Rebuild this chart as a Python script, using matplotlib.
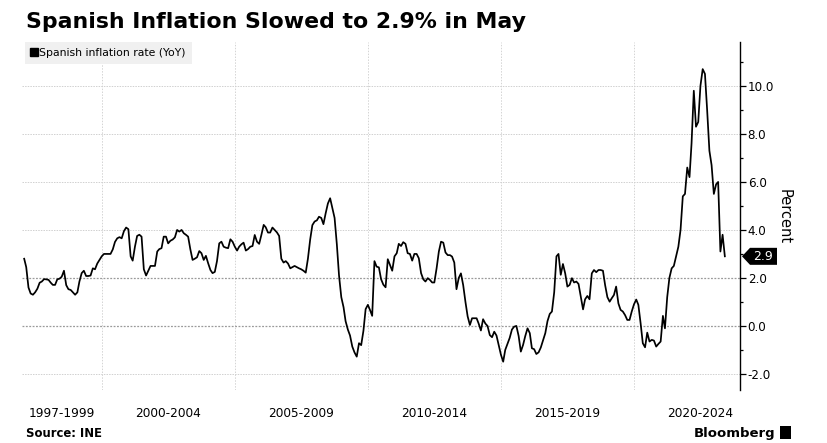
import numpy as np
import pandas as pd
import matplotlib
matplotlib.use("Agg")
import matplotlib.pyplot as plt
from matplotlib.lines import Line2D
from matplotlib.patches import Rectangle, Polygon
from matplotlib.transforms import IdentityTransform

# Spanish inflation rate YoY (%), monthly, Jan 1997 - May 2023
v1997 = [2.8, 2.45, 1.6, 1.35, 1.3, 1.4, 1.55, 1.8, 1.85, 1.95, 1.94, 1.92]
v1998 = [1.8, 1.71, 1.71, 1.94, 1.97, 2.05, 2.3, 1.7, 1.53, 1.5, 1.4, 1.3]
v1999 = [1.4, 1.85, 2.2, 2.3, 2.08, 2.08, 2.1, 2.4, 2.36, 2.6, 2.75, 2.9]
v2000 = [3.0, 3.0, 3.0, 3.0, 3.19, 3.5, 3.65, 3.7, 3.65, 3.95, 4.1, 4.03]
v2001 = [2.9, 2.72, 3.3, 3.75, 3.8, 3.72, 2.36, 2.1, 2.3, 2.5, 2.5, 2.5]
v2002 = [3.1, 3.2, 3.24, 3.72, 3.72, 3.44, 3.55, 3.6, 3.69, 4.0, 3.93, 4.0]
v2003 = [3.86, 3.8, 3.72, 3.2, 2.75, 2.8, 2.86, 3.12, 3.03, 2.75, 2.92, 2.61]
v2004 = [2.33, 2.2, 2.25, 2.7, 3.44, 3.51, 3.3, 3.26, 3.24, 3.61, 3.51, 3.3]
v2005 = [3.14, 3.3, 3.4, 3.47, 3.14, 3.2, 3.3, 3.33, 3.79, 3.51, 3.42, 3.8]
v2006 = [4.21, 4.11, 3.89, 3.89, 4.1, 4.0, 3.9, 3.75, 2.8, 2.64, 2.7, 2.6]
v2007 = [2.4, 2.45, 2.5, 2.45, 2.4, 2.36, 2.3, 2.22, 2.8, 3.6, 4.2, 4.35]
v2008 = [4.4, 4.55, 4.5, 4.24, 4.7, 5.1, 5.32, 4.9, 4.5, 3.4, 2.1, 1.2]
v2009 = [0.78, 0.2, -0.15, -0.4, -0.86, -1.1, -1.28, -0.72, -0.8, -0.2, 0.7, 0.88]
v2010 = [0.65, 0.42, 2.7, 2.47, 2.44, 1.95, 1.72, 1.61, 2.78, 2.54, 2.3, 2.9]
v2011 = [3.03, 3.42, 3.33, 3.49, 3.42, 3.03, 3.0, 2.72, 3.0, 3.0, 2.82, 2.2]
v2012 = [1.94, 1.85, 1.99, 1.92, 1.81, 1.81, 2.4, 3.1, 3.51, 3.47, 3.06, 2.95]
v2013 = [2.95, 2.89, 2.64, 1.53, 2.0, 2.19, 1.7, 1.0, 0.4, 0.04, 0.32, 0.32]
v2014 = [0.32, 0.1, -0.19, 0.28, 0.1, 0.0, -0.38, -0.47, -0.24, -0.4, -0.8, -1.2]
v2015 = [-1.49, -1.0, -0.75, -0.5, -0.15, -0.03, 0.0, -0.42, -1.07, -0.79, -0.42, -0.1]
v2016 = [-0.3, -0.93, -0.97, -1.17, -1.1, -0.9, -0.6, -0.3, 0.2, 0.5, 0.6, 1.4]
v2017 = [2.9, 3.0, 2.13, 2.58, 2.19, 1.64, 1.71, 1.99, 1.81, 1.85, 1.75, 1.22]
v2018 = [0.69, 1.11, 1.25, 1.11, 2.19, 2.33, 2.24, 2.33, 2.33, 2.3, 1.7, 1.2]
v2019 = [1.01, 1.15, 1.29, 1.64, 0.94, 0.67, 0.6, 0.45, 0.25, 0.25, 0.6, 0.9]
v2020 = [1.1, 0.88, 0.11, -0.72, -0.89, -0.28, -0.65, -0.58, -0.61, -0.86, -0.75, -0.65]
v2021 = [0.42, -0.1, 1.2, 2.0, 2.4, 2.5, 2.9, 3.3, 4.0, 5.4, 5.5, 6.6]
v2022 = [6.2, 7.6, 9.8, 8.3, 8.5, 10.0, 10.7, 10.5, 9.0, 7.3, 6.7, 5.5]
v2023 = [5.9, 6.0, 3.1, 3.8, 2.9]

values = (v1997 + v1998 + v1999 + v2000 + v2001 + v2002 + v2003 + v2004 + v2005
          + v2006 + v2007 + v2008 + v2009 + v2010 + v2011 + v2012 + v2013 + v2014
          + v2015 + v2016 + v2017 + v2018 + v2019 + v2020 + v2021 + v2022 + v2023)
dates = pd.date_range("1997-01-31", periods=len(values), freq="ME")

period_labels = ["1997-1999", "2000-2004", "2005-2009", "2010-2014", "2015-2019", "2020-2024"]
period_mid = ["1998-07-01", "2002-07-01", "2007-07-01", "2012-07-01", "2017-07-01", "2022-07-01"]
grid_years = ["2000-01-01", "2005-01-01", "2010-01-01", "2015-01-01", "2020-01-01"]
yticks = [-2, 0, 2, 4, 6, 8, 10]

fig = plt.figure(figsize=(8.27, 4.43), dpi=100)
ax = fig.add_axes([0.0266, 0.1196, 0.8682, 0.7856])

# gridlines
for g in grid_years:
    ax.axvline(pd.Timestamp(g), color="#d4d4d4", lw=0.7, ls=(0, (1.5, 1.5)), zorder=0)
for yv in yticks:
    c = "#9a9a9a" if yv in (0, 2) else "#d0d0d0"
    ax.axhline(yv, color=c, lw=0.9 if yv in (0, 2) else 0.7, ls=(0, (1.5, 1.2)), zorder=0)

ax.plot(dates, values, color="black", lw=1.25, zorder=3)

ax.set_xlim(pd.Timestamp("1997-01-01"), pd.Timestamp("2023-12-25"))
ax.set_ylim(-2.67, 11.83)

# spines
for s in ["top", "left", "bottom"]:
    ax.spines[s].set_visible(False)
ax.spines["right"].set_color("black")
ax.spines["right"].set_linewidth(1.0)

# y axis on the right
ax.yaxis.tick_right()
ax.set_yticks(yticks)
ax.set_yticklabels([f"{t:.1f}" for t in yticks])
ax.set_yticks([-1, 1, 3, 5, 7, 9, 11], minor=True)
ax.tick_params(axis="y", which="major", length=4, width=0.9, pad=1.5,
               labelsize=8.6, colors="black")
ax.tick_params(axis="y", which="minor", length=2.5, width=0.9)

# x axis period labels
ax.set_xticks([pd.Timestamp(d) for d in period_mid])
ax.set_xticklabels(period_labels)
ax.tick_params(axis="x", length=0, pad=12, labelsize=8.7)

# last value tag (pentagon pointing at the axis)
x0 = ax.transAxes.transform((1.0, 0))[0]
y0 = ax.transData.transform((0, values[-1]))[1]
tag = Polygon([(x0 + 2, y0), (x0 + 10, y0 + 8.5), (x0 + 37, y0 + 8.5),
               (x0 + 37, y0 - 8.5), (x0 + 10, y0 - 8.5)], closed=True,
              facecolor="black", edgecolor="none", transform=IdentityTransform())
fig.patches.append(tag)
fig.text((x0 + 23) / fig.bbox.width, y0 / fig.bbox.height, f"{values[-1]:.1f}",
         color="white", fontsize=9, ha="center", va="center")

# legend
h = Line2D([], [], color="black", marker="s", ls="none", markersize=5.5)
leg = ax.legend([h], ["Spanish inflation rate (YoY)"], loc="upper left",
                bbox_to_anchor=(0.004, 1.0), borderaxespad=0, frameon=True,
                fancybox=False, fontsize=7.8, handlelength=0.5, handletextpad=0.3,
                borderpad=0.55)
leg.get_frame().set_facecolor("#f0f0f0")
leg.get_frame().set_edgecolor("none")
leg.get_frame().set_alpha(1)

fig.text(0.948, 0.512, "Percent", rotation=270, ha="center", va="center", fontsize=10.5)

fig.text(0.032, 0.950, "Spanish Inflation Slowed to 2.9% in May", fontsize=15.8,
         fontweight="bold", ha="left", va="center")
fig.text(0.032, 0.022, "Source: INE", fontsize=8.4, fontweight="bold", ha="left", va="center")
fig.text(0.937, 0.022, "Bloomberg", fontsize=9.5, fontweight="bold", ha="right", va="center")
fig.patches.append(Rectangle((0.943, 0.008), 0.014, 0.03, transform=fig.transFigure,
                             facecolor="black", edgecolor="none"))

fig.savefig("out.png", dpi=100)
